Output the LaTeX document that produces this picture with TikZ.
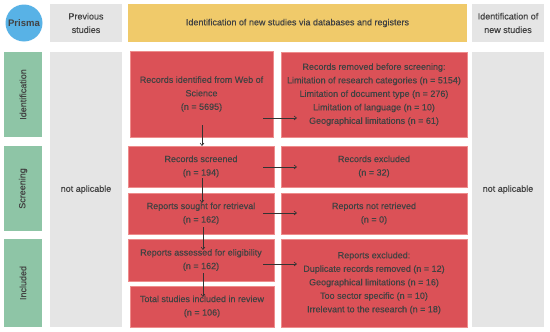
\documentclass[tikz,border=0pt]{standalone}
\usepackage{fontspec}
\setmainfont{Liberation Sans}[FakeBold=0.35]
\newfontfamily\prismafont{Liberation Sans Bold}
\usetikzlibrary{arrows.meta}
\definecolor{redbox}{RGB}{219,81,87}
\definecolor{redline}{RGB}{238,140,140}
\definecolor{greenbox}{RGB}{142,197,166}
\definecolor{yellowbox}{RGB}{240,202,106}
\definecolor{graybox}{RGB}{229,229,229}
\definecolor{bluecirc}{RGB}{88,178,230}
\definecolor{txt}{RGB}{66,66,66}
\begin{document}
\begin{tikzpicture}[x=1pt,y=-1pt,
  every node/.style={font=\fontsize{9}{13.5}\selectfont, text=txt, align=center, inner sep=0pt},
  rbox/.style={fill=redbox, draw=redline, line width=0.4pt},
  gbox/.style={fill=greenbox},
  grbox/.style={fill=graybox},
  ybox/.style={fill=yellowbox},
  arr/.style={draw=black!80, line width=0.6pt, -{Straight Barb[length=2.5pt,width=4pt]}}
]
\useasboundingbox (0,0) rectangle (550,332);
\fill[white] (0,0) rectangle (550,332);
% header row
\node[circle, fill=bluecirc, minimum size=37pt, font=\fontsize{9.5}{12}\prismafont] (prisma) at (24,23) {Prisma};
\node[grbox, minimum width=72pt, minimum height=38pt] (prevh) at (86,23) {Previous\\studies};
\node[ybox, minimum width=339pt, minimum height=38pt] (idh) at (297.5,23) {Identification of new studies via databases and registers};
\node[grbox, minimum width=72pt, minimum height=38pt] (newh) at (508,23) {Identification of\\new studies};
% phase labels
\node[gbox, minimum width=38pt, minimum height=85pt] (g1) at (23,94.5) {};
\node[rotate=90] at (g1) {Identification};
\node[gbox, minimum width=38pt, minimum height=85pt] (g2) at (23,188.5) {};
\node[rotate=90] at (g2) {Screening};
\node[gbox, minimum width=38pt, minimum height=88pt] (g3) at (23,283) {};
\node[rotate=90] at (g3) {Included};
% gray columns
\node[grbox, minimum width=72pt, minimum height=275pt] (prevc) at (86,189.5) {not aplicable};
\node[grbox, minimum width=72pt, minimum height=275pt] (newc) at (508,189.5) {not aplicable};
% left red boxes
\node[rbox, minimum width=143pt, minimum height=86pt] (r1) at (201.5,94) {Records identified from Web of\\Science\\(n = 5695)};
\node[rbox, minimum width=146pt, minimum height=41pt] (r2) at (201,166.5) {Records screened\\(n = 194)};
\node[rbox, minimum width=146pt, minimum height=41pt] (r3) at (201,213.5) {Reports sought for retrieval\\(n = 162)};
\node[rbox, minimum width=146pt, minimum height=42pt] (r4) at (201,260) {Reports assessed for eligibility\\(n = 162)};
\node[rbox, minimum width=144pt, minimum height=41pt] (r5) at (202,306.5) {Total studies included in review\\(n = 106)};
% right red boxes
\node[rbox, minimum width=186pt, minimum height=85pt] (s1) at (374,94.5) {Records removed before screening:\\Limitation of research categories (n = 5154)\\Limitation of document type (n = 276)\\Limitation of language (n = 10)\\Geographical limitations (n = 61)};
\node[rbox, minimum width=186pt, minimum height=41pt] (s2) at (374,166.5) {Records excluded\\(n = 32)};
\node[rbox, minimum width=186pt, minimum height=41pt] (s3) at (374,213.5) {Reports not retrieved\\(n = 0)};
\node[rbox, minimum width=186pt, minimum height=88pt] (s4) at (374,283) {Reports excluded:\\Duplicate records removed (n = 12)\\Geographical limitations (n = 16)\\Too sector specific (n = 10)\\Irrelevant to the research (n = 18)};
% arrow endpoints
\coordinate (v1a) at (202,125); \coordinate (v1b) at (202,146);
\coordinate (v2a) at (202,178); \coordinate (v2b) at (202,203);
\coordinate (v3a) at (203,227); \coordinate (v3b) at (203,250);
\coordinate (v4a) at (203,273); \coordinate (v4b) at (203,297);
\coordinate (h1a) at (263,118); \coordinate (h1b) at (297,118);
\coordinate (h2a) at (263,167); \coordinate (h2b) at (297,167);
\coordinate (h3a) at (263,213); \coordinate (h3b) at (297,213);
\coordinate (h4a) at (263,264); \coordinate (h4b) at (297,264);
\draw[arr] (v1a) -- (v1b);
\draw[arr] (v2a) -- (v2b);
\draw[arr] (v3a) -- (v3b);
\draw[arr] (v4a) -- (v4b);
\draw[arr] (h1a) -- (h1b);
\draw[arr] (h2a) -- (h2b);
\draw[arr] (h3a) -- (h3b);
\draw[arr] (h4a) -- (h4b);
\end{tikzpicture}
\end{document}
